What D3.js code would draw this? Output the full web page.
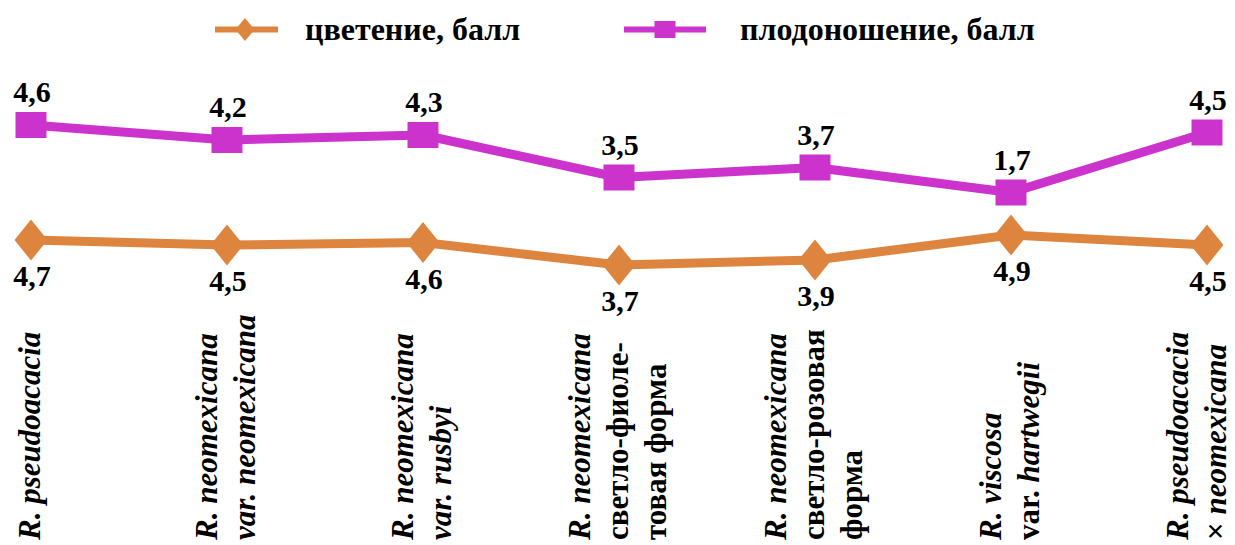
<!DOCTYPE html>
<html>
<head>
<meta charset="utf-8">
<script src="https://cdn.jsdelivr.net/npm/d3@7"></script>
</head>
<body style="margin:0;background:#fff">
<svg id="chart" width="1235" height="545" style="display:block"></svg>
<script>
// ---- data ----
const categories = [
  "R. pseudoacacia",
  "R. neomexicana var. neomexicana",
  "R. neomexicana var. rusbyi",
  "R. neomexicana светло-фиолетовая форма",
  "R. neomexicana светло-розовая форма",
  "R. viscosa var. hartwegii",
  "R. pseudoacacia × neomexicana"
];
// label lines: each line is a list of [text, italic]
const categoryLines = [
  [[["R. pseudoacacia", true]]],
  [[["R. neomexicana", true]], [["var. neomexicana", true]]],
  [[["R. neomexicana", true]], [["var. rusbyi", true]]],
  [[["R. neomexicana", true]], [["светло-фиоле-", false]], [["товая форма", false]]],
  [[["R. neomexicana", true]], [["светло-розовая", false]], [["форма", false]]],
  [[["R. viscosa", true]], [["var. ", false], ["hartwegii", true]]],
  [[["R. pseudoacacia", true]], [["× ", false], ["neomexicana", true]]]
];
const seriesNames = ["цветение, балл", "плодоношение, балл"];
const flowering = [4.7, 4.5, 4.6, 3.7, 3.9, 4.9, 4.5];
const fruiting  = [4.6, 4.2, 4.3, 3.5, 3.7, 1.7, 4.5];
const colors = ["#DD853E", "#CC33CC"];

// ---- stacking (stacked line chart) ----
const rows = categories.map((c, i) => ({ cat: c, f: flowering[i], p: fruiting[i] }));
const stacked = d3.stack().keys(["f", "p"])(rows);

const svg = d3.select("#chart");
const x = d3.scalePoint().domain(categories).range([31, 1207]);
const y = d3.scaleLinear().domain([0, 10]).range([357.5, 107.5]);

const fmt = v => d3.format(".1f")(v).replace(".", ",");
const FONT = "Liberation Serif";

function diamond(w, h) { return `M0,${-h/2}L${w/2},0L0,${h/2}L${-w/2},0Z`; }
function rect(w, h) { return `M${-w/2},${-h/2}h${w}v${h}h${-w}Z`; }

const line = d3.line().x(d => x(d.data.cat)).y(d => y(d[1]));

stacked.forEach((layer, li) => {
  const g = svg.append("g");
  g.append("path").datum(layer)
    .attr("d", line)
    .attr("fill", "none")
    .attr("stroke", colors[li])
    .attr("stroke-width", 9)
    .attr("stroke-linejoin", "round");
  g.selectAll("path.m").data(layer).join("path").attr("class", "m")
    .attr("transform", d => `translate(${x(d.data.cat)},${y(d[1])})`)
    .attr("d", li === 0 ? diamond(33, 41) : rect(31, 26))
    .attr("fill", colors[li]);
  g.selectAll("text").data(layer).join("text")
    .attr("x", d => x(d.data.cat) + 1)
    .attr("y", d => y(d[1]) + (li === 0 ? 46 : -23))
    .attr("text-anchor", "middle")
    .attr("font-family", FONT)
    .attr("font-weight", "bold")
    .attr("font-size", 30)
    .attr("fill", "#000")
    .text(d => fmt(d[1] - d[0]));
});

// ---- category labels (rotated) ----
const fsCat = 31, lineGap = 38;
categoryLines.forEach((lines, ci) => {
  const cx = Math.min(x(categories[ci]), 1198);
  const n = lines.length;
  lines.forEach((segs, k) => {
    const lx = cx + (k - (n - 1) / 2) * lineGap + 0.28 * fsCat;
    const t = svg.append("text")
      .attr("transform", `translate(${lx},540) rotate(-90)`)
      .attr("text-anchor", "start")
      .attr("font-family", FONT)
      .attr("font-weight", "bold")
      .attr("font-size", fsCat)
      .attr("fill", "#000");
    segs.forEach(([s, it]) => {
      t.append("tspan").attr("font-style", it ? "italic" : "normal").text(s);
    });
  });
});

// ---- legend ----
const legend = [
  { x1: 215, x2: 278, mx: 245, tx: 305, shape: diamond(19, 23) },
  { x1: 624, x2: 706, mx: 665, tx: 740, shape: rect(21, 17) }
];
legend.forEach((l, i) => {
  const g = svg.append("g");
  g.append("line").attr("x1", l.x1).attr("x2", l.x2).attr("y1", 29.5).attr("y2", 29.5)
    .attr("stroke", colors[i]).attr("stroke-width", 6);
  g.append("path").attr("d", l.shape).attr("transform", `translate(${l.mx},29.5)`).attr("fill", colors[i]);
  g.append("text").attr("x", l.tx).attr("y", 40)
    .attr("font-family", FONT).attr("font-weight", "bold")
    .attr("font-size", 32).attr("fill", "#000").text(seriesNames[i]);
});
</script>
</body>
</html>
